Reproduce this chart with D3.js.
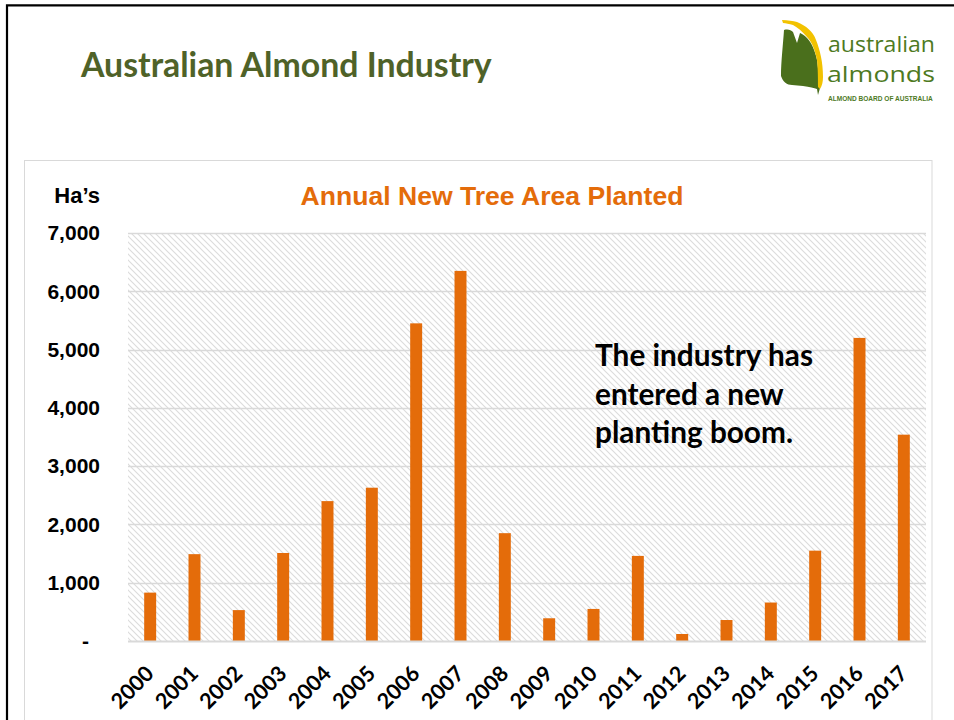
<!DOCTYPE html>
<html>
<head>
<meta charset="utf-8">
<script src="https://cdn.jsdelivr.net/npm/d3@7"></script>
<style>
  body { margin: 0; background: #fff; }
  svg { display: block; }
</style>
</head>
<body>
<div class="svg-container"></div>
<script>
const years = ['2000','2001','2002','2003','2004','2005','2006','2007','2008',
  '2009','2010','2011','2012','2013','2014','2015','2016','2017']
const hectares = [830, 1490, 530, 1510, 2400, 2630, 5450, 6350, 1850,
  390, 550, 1460, 120, 360, 660, 1550, 5200, 3540]
const yTicks = [0, 1000, 2000, 3000, 4000, 5000, 6000, 7000]
const noteLines = ['The industry has', 'entered a new', 'planting boom.']
const pageTitle = 'Australian Almond Industry'
const chartTitle = 'Annual New Tree Area Planted'
const unitLabel = 'Ha’s'

const orange = '#e46c0a'
const grid = '#d9d9d9'

const svg = d3.select('.svg-container').append('svg')
  .attr('width', 954)
  .attr('height', 720)

// fit a text element to a given pixel width
function fitWidth(sel, w) {
  const len = sel.node().getComputedTextLength()
  const fs = parseFloat(sel.attr('font-size'))
  sel.attr('font-size', (fs * w / len).toFixed(2))
}

const defs = svg.append('defs')
const hatch = defs.append('pattern')
  .attr('id', 'hatch')
  .attr('patternUnits', 'userSpaceOnUse')
  .attr('width', 6)
  .attr('height', 6)
hatch.append('rect').attr('width', 6).attr('height', 6).attr('fill', '#fff')
hatch.append('path')
  .attr('d', 'M-1,-1L7,7M-1,5L1,7M5,-1L7,1')
  .attr('stroke', '#dcdcdc')
  .attr('stroke-width', 1.1)

// slide frame
svg.append('path')
  .attr('d', 'M7,720V5.3H954')
  .attr('fill', 'none')
  .attr('stroke', '#000')
  .attr('stroke-width', 2.2)

svg.append('text')
  .attr('x', 81)
  .attr('y', 77)
  .attr('font-family', 'Lato, "Open Sans", sans-serif')
  .attr('font-weight', 700)
  .attr('font-size', 30)
  .attr('fill', '#4f6228')
  .text(pageTitle)
  .call(fitWidth, 411)

// logo
const logo = svg.append('g').attr('class', 'logo')
logo.append('path')
  .attr('d', 'M784,30 C783,45 781,62 781,76 C783,82 787,85 792,85 L803,86 C810,87 814,88 817,89 L818,95 L820,88 C819,78 818,68 817,60 C815,50 811,42 807,38 C804,35 802,34 800,33 L797,43 L793,32 C791,30 788,29 784,30Z')
  .attr('fill', '#4a6f1c')
logo.append('path')
  .attr('d', 'M782,20 C788,20 793,21 797,22 C806,26 813,31 816,40 C820,50 823,62 823,77 C823,82 822,86 820,89 L818,87 C818,80 818,70 817,60 C815,50 812,42 807,37 C802,31 797,27 793,25 C789,24 786,23 783,23Z')
  .attr('fill', '#f2c200')
logo.append('text')
  .attr('x', 828).attr('y', 52)
  .attr('font-family', '"Open Sans", sans-serif')
  .attr('font-size', 22)
  .attr('textLength', 107)
  .attr('lengthAdjust', 'spacingAndGlyphs')
  .attr('fill', '#4e7a1f')
  .text('australian')
logo.append('text')
  .attr('x', 827).attr('y', 82)
  .attr('font-family', '"Open Sans", sans-serif')
  .attr('font-size', 22)
  .attr('textLength', 108)
  .attr('lengthAdjust', 'spacingAndGlyphs')
  .attr('fill', '#4e7a1f')
  .text('almonds')
logo.append('text')
  .attr('transform', 'translate(828,101) scale(0.82,1)')
  .attr('font-family', '"Liberation Sans", sans-serif')
  .attr('font-weight', 700)
  .attr('font-size', 8)
  .attr('fill', '#4e7a1f')
  .text('ALMOND BOARD OF AUSTRALIA')

// chart box
svg.append('rect')
  .attr('x', 24.5)
  .attr('y', 160.5)
  .attr('width', 907.5)
  .attr('height', 600)
  .attr('fill', '#fff')
  .attr('stroke', grid)

const plotLeft = 128, plotRight = 926, plotTop = 233, plotBottom = 641

const x = d3.scaleBand()
  .domain(years)
  .range([plotLeft, plotRight])
  .paddingInner(0.73)
  .paddingOuter(0.365)

const y = d3.scaleLinear()
  .domain([0, 7000])
  .range([plotBottom, plotTop])

svg.append('rect')
  .attr('x', plotLeft)
  .attr('y', plotTop)
  .attr('width', plotRight - plotLeft)
  .attr('height', plotBottom - plotTop)
  .attr('fill', 'url(#hatch)')

svg.append('g')
  .selectAll('line')
  .data(yTicks.filter(d => d > 0))
  .enter()
  .append('line')
  .attr('x1', plotLeft)
  .attr('x2', plotRight)
  .attr('y1', d => Math.round(y(d)) + 0.5)
  .attr('y2', d => Math.round(y(d)) + 0.5)
  .attr('stroke', grid)
  .attr('stroke-width', 1.3)

svg.append('text')
  .attr('x', 492)
  .attr('y', 205)
  .attr('text-anchor', 'middle')
  .attr('font-family', '"Liberation Sans", Arial, sans-serif')
  .attr('font-weight', 700)
  .attr('font-size', 24)
  .attr('fill', orange)
  .text(chartTitle)
  .call(fitWidth, 383)

svg.append('text')
  .attr('x', 100)
  .attr('y', 203)
  .attr('text-anchor', 'end')
  .attr('font-family', '"Liberation Sans", Arial, sans-serif')
  .attr('font-weight', 700)
  .attr('font-size', 22)
  .attr('fill', '#000')
  .text(unitLabel)

svg.append('g')
  .selectAll('rect')
  .data(hectares)
  .enter()
  .append('rect')
  .attr('x', (d, i) => x(years[i]))
  .attr('y', d => y(d))
  .attr('width', x.bandwidth())
  .attr('height', d => plotBottom - y(d))
  .attr('fill', orange)

// baseline
svg.append('line')
  .attr('x1', plotLeft)
  .attr('x2', plotRight)
  .attr('y1', plotBottom + 0.5)
  .attr('y2', plotBottom + 0.5)
  .attr('stroke', grid)
  .attr('stroke-width', 2)

const yAxis = svg.append('g')
  .attr('transform', `translate(${plotLeft},0)`)
  .call(d3.axisLeft(y)
    .tickValues(yTicks)
    .tickSize(0)
    .tickPadding(28)
    .tickFormat(d => d === 0 ? '-' : d3.format(',')(d)))
yAxis.select('.domain').remove()
yAxis.selectAll('text')
  .attr('font-family', '"Liberation Sans", Arial, sans-serif')
  .attr('font-weight', 700)
  .attr('font-size', 21)
  .attr('fill', '#000')
  .attr('dx', d => d === 0 ? -11 : 0)

const xAxis = svg.append('g')
  .attr('transform', `translate(0,${plotBottom})`)
  .call(d3.axisBottom(x).tickSize(0))
xAxis.select('.domain').remove()
xAxis.selectAll('text')
  .attr('y', 0)
  .attr('dy', 0)
  .attr('text-anchor', 'end')
  .attr('transform', 'translate(5,34) rotate(-45)')
  .attr('font-family', 'Lato, "Open Sans", sans-serif')
  .attr('font-weight', 700)
  .attr('font-size', 21.5)
  .attr('fill', '#000')

const note = svg.append('g')
note.selectAll('text')
  .data(noteLines)
  .enter()
  .append('text')
  .attr('x', 595)
  .attr('y', (d, i) => 366 + i * 38.5)
  .attr('font-family', 'Lato, "Open Sans", sans-serif')
  .attr('font-weight', 700)
  .attr('font-size', 26)
  .attr('fill', '#000')
  .text(d => d)
const first = note.select('text')
first.call(fitWidth, 218)
note.selectAll('text').attr('font-size', first.attr('font-size'))
</script>
</body>
</html>
